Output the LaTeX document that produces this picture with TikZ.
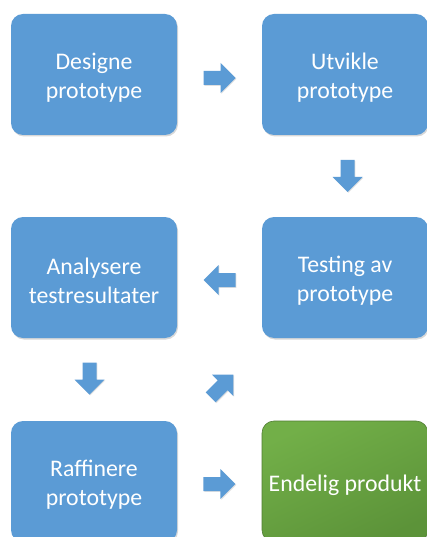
\documentclass[tikz,border=0pt]{standalone}
\usepackage{fontspec}
\setmainfont{Carlito}
\usetikzlibrary{calc,shadows}

\definecolor{stepblue}{RGB}{91,155,213}
\definecolor{finalgreenA}{RGB}{114,175,72}
\definecolor{finalgreenB}{RGB}{92,147,57}
\definecolor{finalgreenEdge}{RGB}{80,125,50}

\tikzset{
  boxshadow/.style={drop shadow={shadow xshift=1pt, shadow yshift=-1.5pt, opacity=0.25, fill=black!60}},
  steplabel/.style={text=white, align=center, inner sep=0pt, yshift=-3.5pt,
    font=\fontsize{23.8}{29}\selectfont},
  stepbox/.style={rounded corners=12pt, fill=stepblue, minimum width=166pt, minimum height=121pt,
    inner sep=0pt, boxshadow, label={[steplabel]center:#1}},
  finalbox/.style={stepbox={#1}, fill=none, top color=finalgreenA, bottom color=finalgreenB,
    shading angle=25, draw=finalgreenEdge, line width=0.6pt},
  pics/blockarrow/.style={code={
    \fill[stepblue, drop shadow={shadow xshift=0.8pt, shadow yshift=-0.8pt, opacity=0.2, fill=black!60}]
      (-16,-7) -- (1,-7) -- (1,-15) -- (16,0) -- (1,15) -- (1,7) -- (-16,7) -- cycle;
  }}
}

\begin{document}
\begin{tikzpicture}[x=1pt, y=-1pt]
  \path[use as bounding box, clip] (0,0) rectangle (427,537);
  \fill[white] (0,0) rectangle (427,537);

  % process steps
  \node[stepbox={Designe\\prototype}]       (design)  at (94,74.5)   {};
  \node[stepbox={Utvikle\\prototype}]       (develop) at (345,74.5)  {};
  \node[stepbox={Analysere\\testresultater}] (analyse) at (94,277.5)  {};
  \node[stepbox={Testing av\\prototype}]    (test)    at (345,277.5) {};
  \node[stepbox={Raffinere\\prototype}]     (refine)  at (94,481.5)  {};
  \node[finalbox={Endelig produkt}]         (final)   at (345,481.5) {};

  % block arrows between the steps
  \pic (a1) at ($($(design.east)!0.5!(develop.west)$)+(0,3.5)$) {blockarrow};
  \pic[rotate=-90] (a2) at ($($(develop.south)!0.5!(test.north)$)+(2.5,0)$) {blockarrow};
  \pic[rotate=180] (a3) at ($($(test.west)!0.5!(analyse.east)$)+(0,2.5)$) {blockarrow};
  \pic[rotate=-90] (a4) at ($($(analyse.south)!0.5!(refine.north)$)+(-4.5,-1)$) {blockarrow};
  \pic[rotate=45] (a5) at ($($(refine.north east)!0.5!(test.south west)$)+(2.5,6.5)$) {blockarrow};
  \pic (a6) at ($($(refine.east)!0.5!(final.west)$)+(0,2.5)$) {blockarrow};
\end{tikzpicture}
\end{document}
